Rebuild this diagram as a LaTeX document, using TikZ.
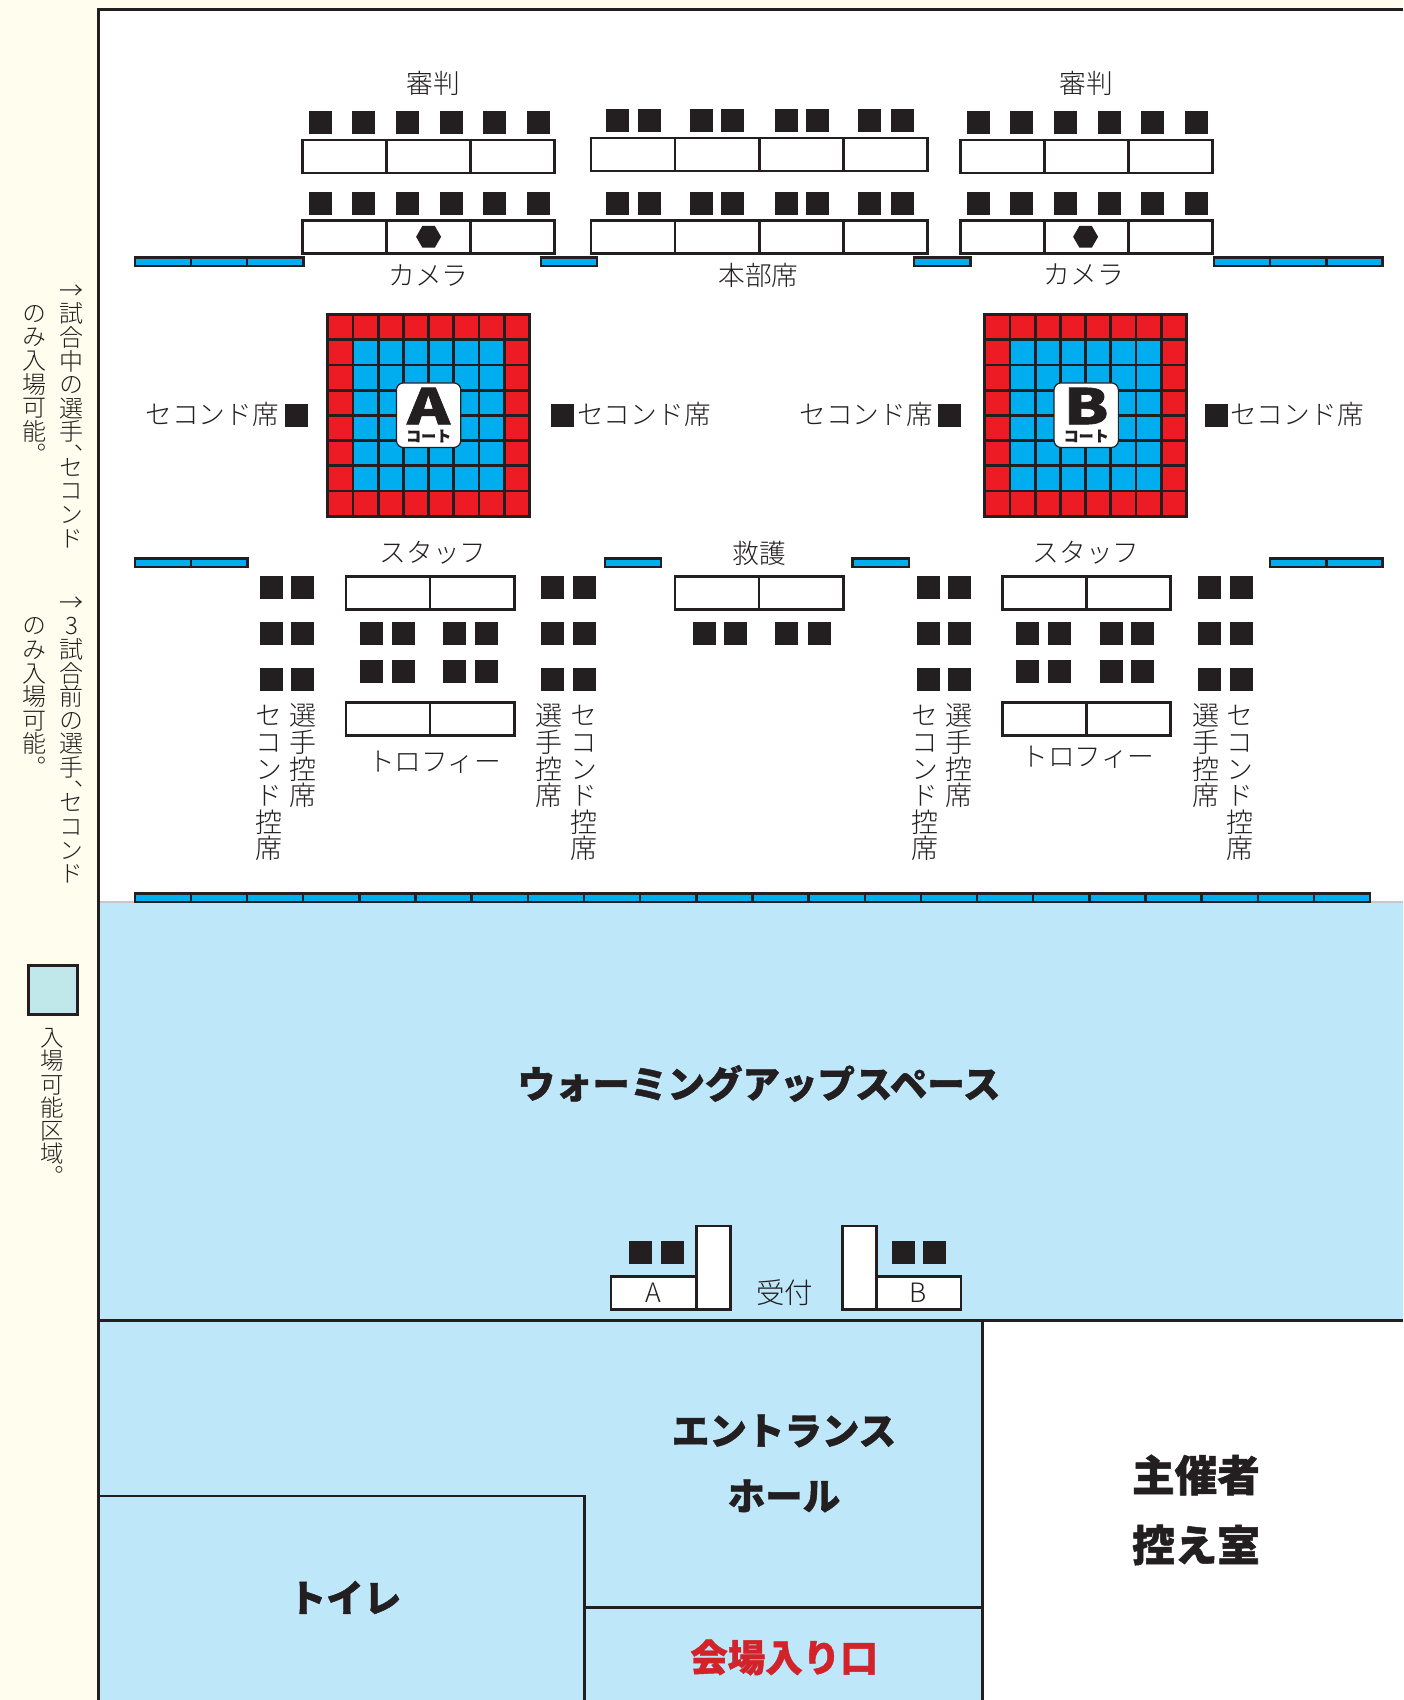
\documentclass[tikz,border=0pt]{standalone}
\usepackage{fontspec}
\usepackage{xcolor}
\usetikzlibrary{shapes.geometric}
\setmainfont{Noto Sans CJK JP Light}
\newfontfamily\jpvert[RawFeature=+vert]{Noto Sans CJK JP Light}
\newfontfamily\jpheavy[BoldFeatures={FakeBold=1.2}]{Noto Sans CJK JP}
\definecolor{ink}{HTML}{231F20}
\definecolor{cream}{HTML}{FFFDEE}
\definecolor{floorblue}{HTML}{BFE7FA}
\definecolor{legendblue}{HTML}{C0E8EA}
\definecolor{railblue}{HTML}{00AEEF}
\definecolor{courtred}{HTML}{ED1C24}
\definecolor{entryred}{HTML}{D2232A}
\def\vchars#1{\vbox{\baselineskip=.983em \lineskiplimit=-1em \vcharsnext#1\vcharsend}}
\def\vcharsnext#1{\ifx#1\vcharsend\else\hbox to 1em{\vrule height .88em depth .12em width 0pt\hss#1\hss}\ifx#1、\vskip-.487em\fi\expandafter\vcharsnext\fi}

\begin{document}
\begin{tikzpicture}[x=1pt, y=-1pt]
		\tikzstyle{seat} = [fill=ink, inner sep=0, outer sep=0, minimum width=23, minimum height=23]
		\tikzstyle{desk} = [draw=ink, fill=white, line width=2.7, inner sep=0, outer sep=0, minimum height=33]
		\tikzstyle{rail} = [draw=ink, fill=railblue, line width=2.5, inner sep=0, outer sep=0, minimum width=56.15, minimum height=8.6]
		\tikzstyle{tile} = [draw=ink, line width=2.7, inner sep=0, outer sep=0, minimum width=25.2, minimum height=25.2]
		\tikzstyle{lens} = [fill=ink, regular polygon, regular polygon sides=6, inner sep=0, minimum size=25]
		\tikzstyle{lab} = [text=ink, inner sep=0, font=\fontsize{26.7}{26.7}\selectfont]
		\tikzstyle{vlab} = [text=ink, inner sep=0, anchor=north, font=\jpvert\fontsize{27}{27}\selectfont]
		\tikzstyle{note} = [text=ink, inner sep=0, anchor=north, font=\jpvert\fontsize{24}{24}\selectfont]
		\tikzstyle{room} = [text=ink, inner sep=0, font=\jpheavy\bfseries\fontsize{37.5}{37.5}\selectfont]
		\tikzstyle{wall} = [draw=ink, line width=2.8]

		\useasboundingbox (0,0) rectangle (1403,1700);
		\fill[cream] (0,0) rectangle (1403,1700);
		\fill[white] (98.5,9.6) rectangle (1403,903);
		\draw[color=black!22, line width=2] (98.5,902) -- (1403,902);
		\fill[floorblue] (98.5,903) rectangle (1403,1320.7);
		\fill[floorblue] (98.5,1320.7) rectangle (982.7,1700);
		\fill[white] (982.7,1320.7) rectangle (1403,1700);
		\coordinate (frameTop) at (1403,9.6);
		\coordinate (frameCorner) at (98.5,9.6);
		\coordinate (frameFoot) at (98.5,1700);
		\coordinate (hallLeft) at (98.5,1320.7);
		\coordinate (hallRight) at (1403,1320.7);
		\coordinate (hostTop) at (982.7,1320.7);
		\coordinate (hostFoot) at (982.7,1700);
		\coordinate (wcLeft) at (98.5,1496);
		\coordinate (wcCorner) at (584.5,1496);
		\coordinate (wcFoot) at (584.5,1700);
		\coordinate (doorRight) at (982.7,1607.8);
		\coordinate (doorLeft) at (584.5,1607.8);
		\draw[wall] (frameTop) -- (frameCorner) -- (frameFoot);
		\draw[wall] (hallLeft) -- (hallRight);
		\draw[wall] (hostTop) -- (hostFoot);
		\draw[wall] (wcLeft) -- (wcCorner) -- (wcFoot);
		\draw[wall] (doorLeft) -- (doorRight);

		\foreach \x [count=\n] in {163,219.2,275.2,569,942.2,1242,1298.2,1354.4} \node[rail] at (\x,261.6) (railTop\n) {};
		\foreach \x [count=\n] in {163,219.2,633,880.7,1298,1354.6} \node[rail] at (\x,562.7) (railMid\n) {};
		\foreach \n in {1,...,22} \node[rail] at ({134.8+28.07+56.15*(\n-1)},897.7) (railLow\n) {};

		\foreach \x [count=\n] in {344.3,428.2,512.2} {
			\node[desk, minimum width=84] at (\x,156.5) (judgeAback\n) {};
			\node[desk, minimum width=84] at (\x,237.1) (judgeAfront\n) {};
		}
		\foreach \x [count=\n] in {633,717.2,801.3,885.5} {
			\node[desk, minimum width=84.2] at (\x,154.5) (headBack\n) {};
			\node[desk, minimum width=84.2] at (\x,237.1) (headFront\n) {};
		}
		\foreach \x [count=\n] in {1002.5,1086.3,1170.2} {
			\node[desk, minimum width=84] at (\x,156.5) (judgeBback\n) {};
			\node[desk, minimum width=84] at (\x,237.1) (judgeBfront\n) {};
		}
		\foreach \x [count=\n] in {320.5,363.5,407.5,451.5,494.5,538.5,978.6,1021.6,1065.1,1109.1,1152.6,1196.6} {
			\node[seat] at (\x,122.5) (seatBack\n) {};
			\node[seat] at (\x,203.5) (seatFront\n) {};
		}
		\foreach \x [count=\n] in {617.5,649.5,701.5,732.5,786.5,817.5,869.5,902} {
			\node[seat] at (\x,120.5) (seatHeadBack\n) {};
			\node[seat] at (\x,203.5) (seatHeadFront\n) {};
		}
		\node[lens] at (428.6,236.8) (camA) {};
		\node[lens] at (1085.6,236.8) (camB) {};

		\node[lab] at (433,83.5) (judgeA) {審判};
		\node[lab] at (1086.5,83.5) (judgeB) {審判};
		\node[lab] at (428.6,275.5) (cameraA) {カメラ};
		\node[lab] at (758.5,275.5) (head) {本部席};
		\node[lab] at (1084,275) (cameraB) {カメラ};

		\foreach \cx/\court in {326.4/A,983.4/B} {
			\foreach \i in {0,...,7} \foreach \j in {0,...,7} {
				\pgfmathtruncatemacro{\edgecell}{(\i==0)||(\i==7)||(\j==0)||(\j==7)}
				\ifnum\edgecell=1
					\node[tile, fill=courtred] at ({\cx+13.95+25.2*\i},{313.2+13.95+25.2*\j}) (tile\court\i\j) {};
				\else
					\node[tile, fill=railblue] at ({\cx+13.95+25.2*\i},{313.2+13.95+25.2*\j}) (tile\court\i\j) {};
				\fi
			}
		}
		\foreach \cx/\court in {428.6/A,1086.2/B} {
			\node[draw=ink, fill=white, line width=1.2, rounded corners=7, inner sep=0, minimum width=64.3, minimum height=64.6] at (\cx,415.2) (plate\court) {};
			\node[text=ink, inner sep=0, xscale=1.32, transform shape, font=\jpheavy\bfseries\fontsize{49}{49}\selectfont] at (\cx,406) (letter\court) {\court};
			\node[text=ink, inner sep=0, font=\jpheavy\bfseries\fontsize{15}{15}\selectfont] at (\cx,436) (courtword\court) {コート};
		}

		\foreach \x [count=\n] in {296,562.9,949.1,1216} \node[seat] at (\x,415.5) (secondSeat\n) {};
		\node[lab, anchor=east] at (279,414) (secondA1) {セコンド席};
		\node[lab, anchor=west] at (577,414) (secondA2) {セコンド席};
		\node[lab, anchor=east] at (933,414) (secondB1) {セコンド席};
		\node[lab, anchor=west] at (1230,414) (secondB2) {セコンド席};

		\node[lab] at (433,553) (staffA) {スタッフ};
		\node[lab] at (759.4,553) (aid) {救護};
		\node[lab] at (1086,553) (staffB) {スタッフ};

		\foreach \x/\n in {388/1,472.2/2} {
			\node[desk, minimum width=84.2] at (\x,593) (staffAdesk\n) {};
			\node[desk, minimum width=84.2] at (\x,719) (trophyAdesk\n) {};
		}
		\foreach \x/\n in {717/1,801.2/2} \node[desk, minimum width=84.2] at (\x,593) (aidDesk\n) {};
		\foreach \x/\n in {1044.3/1,1128.5/2} {
			\node[desk, minimum width=84.2] at (\x,593) (staffBdesk\n) {};
			\node[desk, minimum width=84.2] at (\x,719) (trophyBdesk\n) {};
		}
		\foreach \x [count=\n] in {271.5,302.5,552.7,584.9,928,959,1209,1241} {
			\node[seat] at (\x,587.3) (benchHi\n) {};
			\node[seat] at (\x,633.3) (benchMid\n) {};
			\node[seat] at (\x,679.3) (benchLow\n) {};
		}
		\foreach \x [count=\n] in {371.5,403.7,454.5,486.7,1027.5,1059.8,1111.8,1142.8} {
			\node[seat] at (\x,633.3) (rowHi\n) {};
			\node[seat] at (\x,671.3) (rowLow\n) {};
		}
		\foreach \x [count=\n] in {704,735,786.5,819} \node[seat] at (\x,633.5) (aidSeat\n) {};
		\node[lab] at (434.5,762) (trophyA) {トロフィー};
		\node[lab] at (1088,757) (trophyB) {トロフィー};

		\node[vlab] at (269,702) (benchSecondA1) {\vchars{セコンド控席}};
		\node[vlab] at (303.3,702) (benchPlayerA1) {\vchars{選手控席}};
		\node[vlab] at (549.3,702) (benchPlayerA2) {\vchars{選手控席}};
		\node[vlab] at (583.7,702) (benchSecondA2) {\vchars{セコンド控席}};
		\node[vlab] at (925,702) (benchSecondB1) {\vchars{セコンド控席}};
		\node[vlab] at (959,702) (benchPlayerB1) {\vchars{選手控席}};
		\node[vlab] at (1205.6,702) (benchPlayerB2) {\vchars{選手控席}};
		\node[vlab] at (1240,702) (benchSecondB2) {\vchars{セコンド控席}};

		\node[note] at (71.7,278) (noteA1) {\vchars{→試合中の選手、セコンド}};
		\node[note] at (34,301) (noteA2) {\vchars{のみ入場可能。}};
		\node[note] at (71.7,590) (noteB1) {\vchars{→3試合前の選手、セコンド}};
		\node[note] at (34,613.5) (noteB2) {\vchars{のみ入場可能。}};
		\node[draw=ink, fill=legendblue, line width=2.7, inner sep=0, minimum width=49, minimum height=49] at (52.9,990) (legend) {};
		\node[note, font=\jpvert\fontsize{23.5}{23.5}\selectfont] at (52.7,1026) (legendText) {\vchars{入場可能区域。}};

		\node[room] at (759,1083.5) (warmup) {ウォーミングアップスペース};
		\node[desk, minimum width=85] at (653.4,1292.9) (deskA) {};
		\node[desk, minimum width=34, minimum height=83.5] at (713.3,1267.6) (sideA) {};
		\node[desk, minimum width=34, minimum height=83.5] at (859.8,1267.6) (sideB) {};
		\node[desk, minimum width=84] at (919,1292.9) (deskB) {};
		\node[lab] at (653,1293) (letterDeskA) {A};
		\node[lab] at (918,1293) (letterDeskB) {B};
		\node[lab, font=\fontsize{28.5}{28.5}\selectfont] at (784.5,1293) (reception) {受付};
		\foreach \x [count=\n] in {640.8,672.8,903,934.8} \node[seat] at (\x,1252.5) (recSeat\n) {};

		\node[room] at (784,1431) (entrance1) {エントランス};
		\node[room] at (784,1496) (entrance2) {ホール};
		\node[room, font=\jpheavy\bfseries\fontsize{42.6}{42.6}\selectfont] at (1196,1475) (host1) {主催者};
		\node[room, font=\jpheavy\bfseries\fontsize{42.6}{42.6}\selectfont] at (1196,1545) (host2) {控え室};
		\node[room] at (345,1597.5) (toilet) {トイレ};
		\node[room, text=entryred] at (784,1657.5) (door) {会場入り口};
\end{tikzpicture}
\end{document}
